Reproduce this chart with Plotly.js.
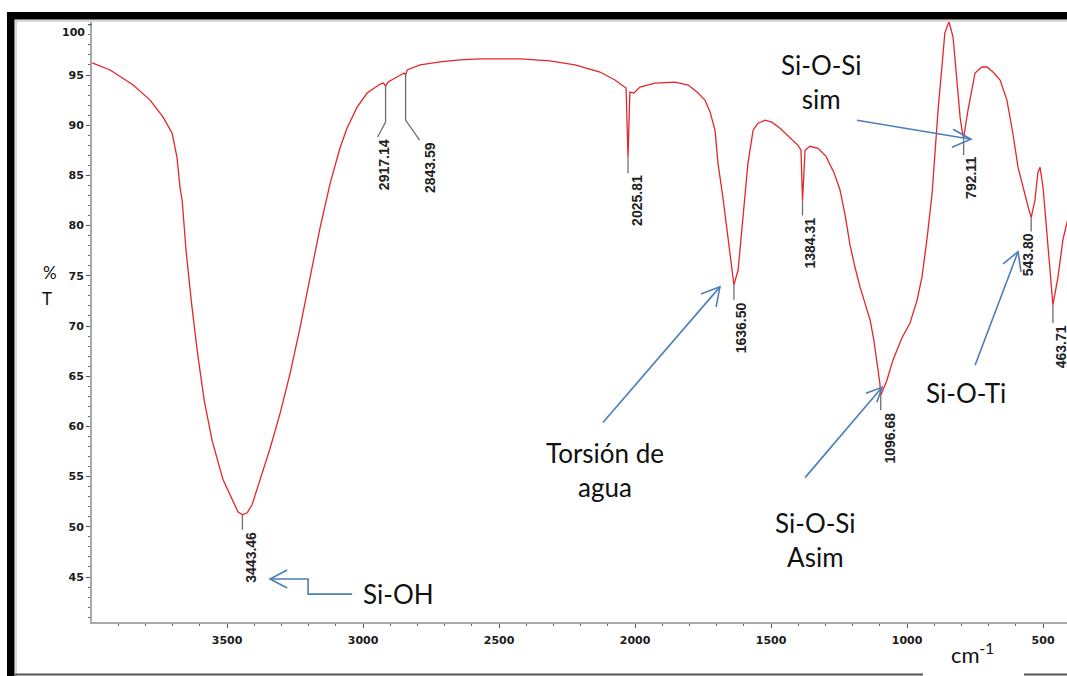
<!DOCTYPE html>
<html>
<head>
<meta charset="utf-8">
<script src="https://cdn.plot.ly/plotly-3.0.1.min.js"></script>
<style>
html, body { margin: 0; padding: 0; background: #ffffff; }
#chart { width: 1067px; height: 676px; }
</style>
</head>
<body>
<div id="chart"></div>
<script>
// ---------------- data ----------------
const wavenumber = [
  3996, 3930, 3845, 3783, 3735, 3702, 3684, 3673, 3665, 3651,
  3632, 3610, 3584, 3555, 3515, 3482, 3460, 3443.46, 3426, 3408,
  3393, 3375, 3342, 3305, 3268, 3232, 3195, 3158, 3121, 3085,
  3059, 3022, 2985, 2956, 2937, 2925, 2917.14, 2908, 2875, 2857,
  2849, 2843.59, 2838, 2790, 2717, 2643, 2570, 2423, 2313, 2221,
  2129, 2074, 2041, 2033, 2025.81, 2019, 2004, 1982, 1927, 1853,
  1805, 1772, 1743, 1724, 1706, 1695, 1677, 1658, 1644, 1636.50,
  1621, 1607, 1596, 1585, 1566, 1548, 1522, 1497, 1467, 1430,
  1401, 1390, 1384.31, 1375, 1357, 1327, 1298, 1269, 1247, 1228,
  1210, 1191, 1173, 1155, 1136, 1122, 1111, 1100, 1096.68, 1081,
  1074, 1052, 1019, 989, 963, 945, 927, 908, 897, 886,
  872, 861, 846, 831, 816, 805, 798, 792.11, 776, 761,
  750, 725, 706, 684, 658, 633, 611, 592, 574, 555,
  543.80, 530, 519, 511, 500, 486, 475, 463.71, 445, 427,
  412, 400
];
const transmittance = [
  96.2, 95.5, 94.0, 92.5, 90.8, 89.2, 86.8, 83.8, 82.5, 77.6,
  72.6, 67.6, 62.6, 58.6, 54.7, 52.7, 51.5, 51.2, 51.4, 52.2,
  53.4, 55.0, 57.8, 61.3, 65.3, 69.8, 74.8, 79.8, 84.2, 87.7,
  89.7, 91.8, 93.2, 93.8, 94.1, 94.2, 93.9, 94.3, 94.8, 95.0,
  95.2, 95.0, 95.5, 96.0, 96.3, 96.5, 96.6, 96.6, 96.4, 96.0,
  95.3, 94.5, 93.9, 93.7, 86.8, 93.3, 93.2, 93.8, 94.2, 94.3,
  94.0, 93.3, 92.5, 91.3, 89.5, 86.2, 82.8, 78.6, 75.6, 74.1,
  75.6, 79.6, 82.8, 86.2, 89.5, 90.2, 90.5, 90.3, 89.7, 88.8,
  88.0, 87.5, 82.5, 87.5, 87.9, 87.7, 86.9, 85.3, 83.6, 81.1,
  78.1, 75.8, 73.9, 72.3, 70.6, 68.6, 66.6, 64.3, 63.1, 64.1,
  64.6, 66.6, 68.8, 70.3, 72.6, 74.9, 78.6, 83.2, 87.5, 91.5,
  95.8, 99.2, 100.3, 98.8, 94.2, 90.8, 89.5, 88.7, 91.5, 93.8,
  95.2, 95.8, 95.8, 95.3, 94.5, 92.5, 89.2, 85.8, 83.8, 81.9,
  80.8, 82.5, 85.3, 85.8, 83.8, 79.3, 75.3, 72.1, 74.9, 78.6,
  80.3, 81.5
];

const peakWavenumber = [3443.46, 2917.14, 2843.59, 2025.81, 1636.50, 1384.31, 1096.68, 792.11, 543.80, 463.71];
const peakTransmittance = [51.2, 93.9, 95.1, 86.8, 74.1, 82.5, 63.1, 88.7, 80.8, 72.1];
const peakLabels = ['3443.46', '2917.14', '2843.59', '2025.81', '1636.50', '1384.31', '1096.68', '792.11', '543.80', '463.71'];

const yTickValues = [45, 50, 55, 60, 65, 70, 75, 80, 85, 90, 95];
const yTickLabels = ['45', '50', '55', '60', '65', '70', '75', '80', '85', '90', '95'];
const yTopLabel = '100';
const xTickValues = [3500, 3000, 2500, 2000, 1500, 1000, 500];
const xTickLabels = ['3500', '3000', '2500', '2000', '1500', '1000', '500'];

const bandNames = ['Si-OH', 'Torsión de<br>agua', 'Si-O-Si<br>sim', 'Si-O-Si<br>Asim', 'Si-O-Ti'];

// ---------------- annotation geometry (positions, not data) ----------------
const leaderGeom = [
  { drop: 15, bx: 0,  by: 0,  dx: 9 },
  { drop: 36, bx: -8, by: 15, dx: -2 },
  { drop: 46, bx: 14, by: 20, dx: 24 },
  { drop: 16, bx: 0,  by: 0,  dx: 9 },
  { drop: 15, bx: 0,  by: 0,  dx: 7 },
  { drop: 15, bx: 0,  by: 0,  dx: 7 },
  { drop: 15, bx: 0,  by: 0,  dx: 9 },
  { drop: 17, bx: 0,  by: 0,  dx: 8 },
  { drop: 14, bx: 0,  by: 0,  dx: -3 },
  { drop: 18, bx: 0,  by: 0,  dx: 8 }
];
const bandTextPos = [[2871, 43.3], [2110, 55.7], [1313, 94.35], [1338, 48.7], [783, 63.3]];
const arrowShafts = [
  [[3040, 43.3], [3202, 43.3], [3202, 44.8], [3342, 44.8]],
  [[2118, 60.4], [1688, 73.9]],
  [[1184, 90.5], [765, 88.6]],
  [[1375, 54.9], [1092, 63.9]],
  [[750, 66.1], [592, 77.4]]
];
const arrowHeads = [
  [[3279, 45.7], [3342, 44.8], [3279, 43.9]],
  [[1758, 73.2], [1688, 73.9], [1702, 71.9]],
  [[831, 89.6], [765, 88.6], [835, 87.8]],
  [[1151, 63.3], [1092, 63.9], [1111, 62.4]],
  [[647, 76.2], [592, 77.4], [581, 75.4]]
];

// ---------------- figure ----------------
const tickFont = { family: 'DejaVu Sans', size: 11, weight: 'bold', color: '#1a1a1a' };
const peakFont = { family: 'Liberation Sans', size: 14, weight: 'bold', color: '#222222' };
const noteFont = { family: 'Lato', size: 26, color: '#111111' };
const blue = '#4a7ebb';

const shapes = [];
const annotations = [];

const frameLine = (x0, y0, x1, y1, color, w) => ({
  type: 'line', xref: 'paper', yref: 'paper', x0, y0, x1, y1,
  line: { color, width: w }, layer: 'above'
});
shapes.push({ type: 'rect', xref: 'paper', yref: 'paper', x0: -0.0872, x1: 1.02, y0: 1.0042, y1: 1.0167,
  fillcolor: '#000000', line: { width: 0 } });
shapes.push({ type: 'rect', xref: 'paper', yref: 'paper', x0: -0.0872, x1: -0.0795, y0: -0.1, y1: 1.0167,
  fillcolor: '#000000', line: { width: 0 } });
shapes.push(frameLine(-0.0795, 1.0017, 1.02, 1.0017, '#b0b0b0', 1));
shapes.push(frameLine(-0.0779, -0.1, -0.0779, 1.0017, '#b0b0b0', 1));
shapes.push(frameLine(-0.0795, -0.0875, 0.8523, -0.0875, '#555555', 2));
shapes.push(frameLine(0.9559, -0.0875, 1.02, -0.0875, '#555555', 2));
shapes.push({ type: 'line', xref: 'paper', yref: 'y', x0: -0.0041, x1: 0, y0: 100, y1: 100,
  line: { color: '#555', width: 1 } });

peakWavenumber.forEach((w, i) => {
  const g = leaderGeom[i];
  let path = 'M0,0 L0,' + (-g.drop);
  if (g.bx !== 0 || g.by !== 0) path += ' L' + g.bx + ',' + (-g.drop - g.by);
  shapes.push({
    type: 'path', xref: 'x', yref: 'y',
    xsizemode: 'pixel', ysizemode: 'pixel',
    xanchor: w, yanchor: peakTransmittance[i],
    path: path, line: { color: '#6f6f6f', width: 1.3 }
  });
  annotations.push({
    x: w, y: peakTransmittance[i], xref: 'x', yref: 'y',
    text: peakLabels[i], showarrow: false, textangle: -90,
    xanchor: 'center', yanchor: 'top',
    xshift: g.dx, yshift: -(g.drop + g.by + 1),
    font: peakFont, borderpad: 0
  });
});

const toPath = pts => pts.map((p, k) => (k === 0 ? 'M' : 'L') + p[0] + ',' + p[1]).join(' ');
arrowShafts.forEach((pts, i) => {
  shapes.push({ type: 'path', xref: 'x', yref: 'y', path: toPath(pts), line: { color: blue, width: 1.6 } });
  shapes.push({ type: 'path', xref: 'x', yref: 'y', path: toPath(arrowHeads[i]), line: { color: blue, width: 1.6 } });
});

bandNames.forEach((t, i) => {
  annotations.push({
    x: bandTextPos[i][0], y: bandTextPos[i][1], xref: 'x', yref: 'y',
    text: t, showarrow: false, xanchor: 'center', yanchor: 'middle', align: 'center',
    font: noteFont
  });
});

annotations.push({ x: -0.0431, y: 0.5833, xref: 'paper', yref: 'paper', text: '%', showarrow: false,
  xanchor: 'center', yanchor: 'middle', font: { family: 'Lato', size: 17, color: '#111' } });
annotations.push({ x: -0.0462, y: 0.54, xref: 'paper', yref: 'paper', text: 'T', showarrow: false,
  xanchor: 'center', yanchor: 'middle', font: { family: 'Lato', size: 17, color: '#111' } });
annotations.push({ x: -0.0051, y: 0.9833, xref: 'paper', yref: 'paper', text: yTopLabel, showarrow: false,
  xanchor: 'right', yanchor: 'middle', font: tickFont });
annotations.push({ x: 0.9026, y: -0.052, xref: 'paper', yref: 'paper', text: 'cm<sup>-1</sup>', showarrow: false,
  xanchor: 'center', yanchor: 'middle', font: { family: 'Lato', size: 22, color: '#111' } });

const trace = {
  type: 'scatter', mode: 'lines',
  x: wavenumber, y: transmittance,
  line: { color: '#e3262b', width: 1.3 },
  hoverinfo: 'skip', showlegend: false
};

const layout = {
  width: 1067, height: 676,
  margin: { l: 92, r: 0, t: 22, b: 54, pad: 0 },
  paper_bgcolor: '#ffffff', plot_bgcolor: '#ffffff',
  showlegend: false,
  xaxis: {
    range: [3996.5, 412], tickmode: 'array', tickvals: xTickValues, ticktext: xTickLabels,
    showline: true, linecolor: '#a8a8a8', linewidth: 2,
    ticks: 'outside', ticklen: 4, tickwidth: 1, tickcolor: '#555',
    minor: { tickmode: 'linear', tick0: 0, dtick: 100, ticks: 'outside', ticklen: 2, tickwidth: 1, tickcolor: '#666' },
    showgrid: false, zeroline: false, tickfont: tickFont, ticklabelstandoff: 3, fixedrange: true
  },
  yaxis: {
    range: [40.52, 100.28], tickmode: 'array', tickvals: yTickValues, ticktext: yTickLabels,
    showline: true, linecolor: '#a8a8a8', linewidth: 2,
    ticks: 'outside', ticklen: 4, tickwidth: 1, tickcolor: '#555',
    minor: { tickmode: 'linear', tick0: 0, dtick: 1, ticks: 'outside', ticklen: 2, tickwidth: 1, tickcolor: '#666' },
    showgrid: false, zeroline: false, tickfont: tickFont, fixedrange: true
  },
  shapes: shapes,
  annotations: annotations
};

Plotly.newPlot('chart', [trace], layout, { staticPlot: true, displayModeBar: false });
</script>
</body>
</html>
